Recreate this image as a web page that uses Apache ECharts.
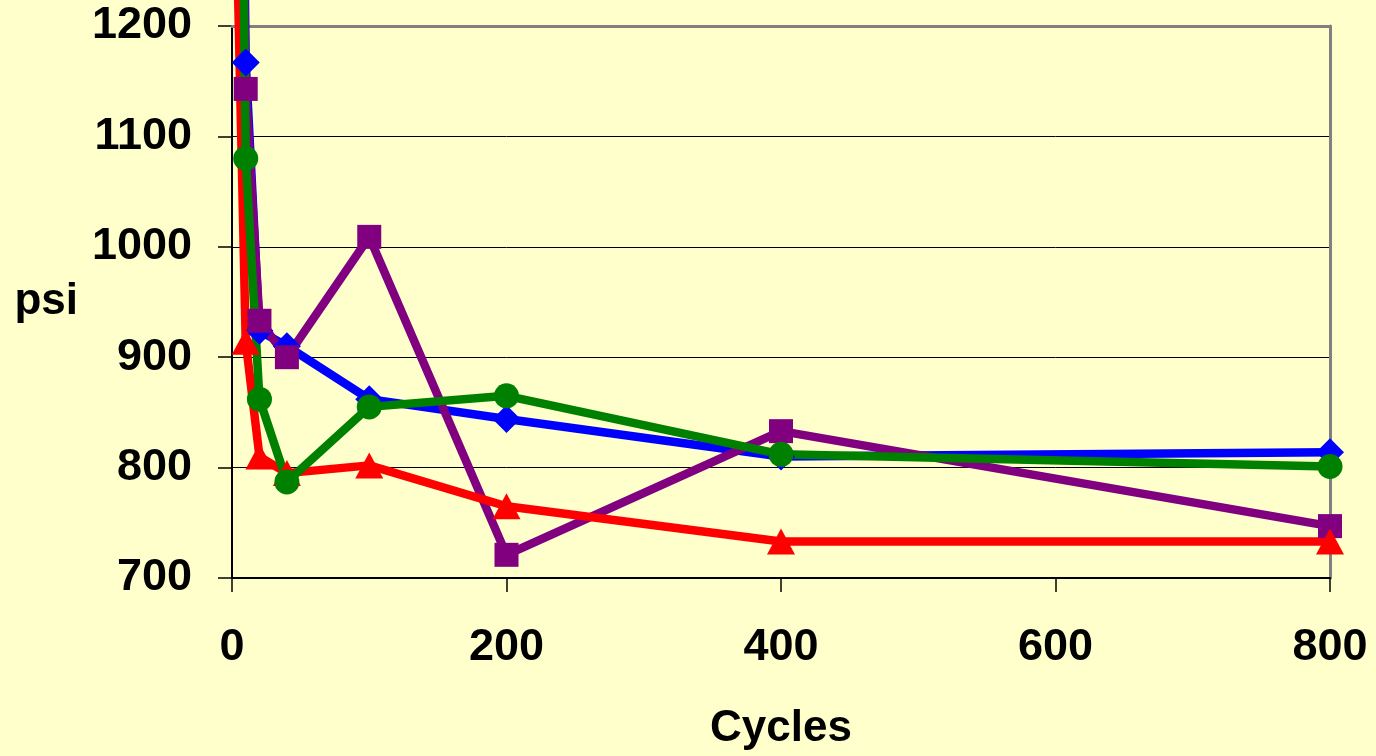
<!DOCTYPE html>
<html>
<head>
<meta charset="utf-8">
<script src="https://cdn.jsdelivr.net/npm/echarts@6/dist/echarts.min.js"></script>
<style>
  html, body { margin: 0; padding: 0; background: #FFFFCC; }
  #chart { width: 1376px; height: 756px; }
</style>
</head>
<body>
<div id="chart"></div>
<script>
// Cycle counts on the x axis
const cycles = [0, 10, 20, 40, 100, 200, 400, 800];

// Pressure (psi) for each sample
const blueValues   = [2200, 1167, 924, 910, 862, 844, 810, 814];
const purpleValues = [1900, 1143, 933, 900, 1009, 721, 833, 747];
const redValues    = [1480, 914, 810, 795, 802, 765, 733, 733];
const greenValues  = [2100, 1080, 862, 787, 855, 865, 812, 801];

// Axis ticks
const xTicks = [0, 200, 400, 600, 800];
const yTicks = [700, 800, 900, 1000, 1100, 1200];

const FONT = "'Liberation Sans', Arial, sans-serif";

function pairs(values) {
  return cycles.map((c, i) => [c, values[i]]);
}

function lineSeries(name, values, color, symbol, size) {
  return {
    name: name,
    type: 'line',
    data: pairs(values),
    clip: false,
    symbol: symbol,
    symbolSize: size,
    showAllSymbol: true,
    lineStyle: { color: color, width: 8.5 },
    itemStyle: { color: color, borderColor: color, borderWidth: 0, opacity: 1 },
    emphasis: { disabled: true },
    animation: false
  };
}

const chart = echarts.init(document.getElementById('chart'), null, { renderer: 'canvas' });

chart.setOption({
  backgroundColor: '#FFFFCC',
  animation: false,
  grid: { left: 232, right: 46, top: 26, bottom: 176, containLabel: false },
  xAxis: [
    {
      type: 'value',
      position: 'bottom',
      min: xTicks[0],
      max: xTicks[xTicks.length - 1],
      interval: 200,
      name: 'Cycles',
      nameLocation: 'middle',
      nameGap: 129,
      nameTextStyle: { fontFamily: FONT, fontSize: 44, fontWeight: 'bold', color: '#000' },
      axisLine: { show: true, onZero: false, lineStyle: { color: '#000', width: 2 } },
      axisTick: { show: true, inside: false, length: 14, lineStyle: { color: '#000', width: 1.5 } },
      axisLabel: {
        show: true, margin: 47, fontFamily: FONT, fontSize: 45, fontWeight: 'bold', color: '#000',
        formatter: (v) => String(v)
      },
      splitLine: { show: false }
    },
    {
      // top frame of the plot area
      type: 'value',
      position: 'top',
      min: xTicks[0],
      max: xTicks[xTicks.length - 1],
      axisLine: { show: true, onZero: false, lineStyle: { color: '#808080', width: 3 } },
      axisTick: { show: false },
      axisLabel: { show: false },
      splitLine: { show: false },
      z: 1
    }
  ],
  yAxis: [
    {
      type: 'value',
      position: 'left',
      min: yTicks[0],
      max: yTicks[yTicks.length - 1],
      interval: 100,
      name: 'psi',
      nameLocation: 'middle',
      nameRotate: 0,
      nameGap: 154,
      nameTextStyle: { fontFamily: FONT, fontSize: 44, fontWeight: 'bold', color: '#000' },
      axisLine: { show: true, onZero: false, lineStyle: { color: '#000', width: 2 } },
      axisTick: { show: true, inside: false, length: 14, lineStyle: { color: '#000', width: 1.5 } },
      axisLabel: {
        show: true, margin: 40, fontFamily: FONT, fontSize: 45, fontWeight: 'bold', color: '#000',
        formatter: (v) => String(v)
      },
      splitLine: { show: true, showMaxLine: false, lineStyle: { color: '#000', width: 1 } }
    },
    {
      // right frame of the plot area
      type: 'value',
      position: 'right',
      min: yTicks[0],
      max: yTicks[yTicks.length - 1],
      axisLine: { show: true, onZero: false, lineStyle: { color: '#808080', width: 3 } },
      axisTick: { show: false },
      axisLabel: { show: false },
      splitLine: { show: false }
    }
  ],
  series: [
    lineSeries('Blue', blueValues, '#0000FF', 'diamond', [28, 28]),
    lineSeries('Purple', purpleValues, '#800080', 'rect', 24),
    lineSeries('Red', redValues, '#FF0000', 'triangle', [28, 26]),
    lineSeries('Green', greenValues, '#008000', 'circle', 25)
  ]
});
</script>
</body>
</html>
